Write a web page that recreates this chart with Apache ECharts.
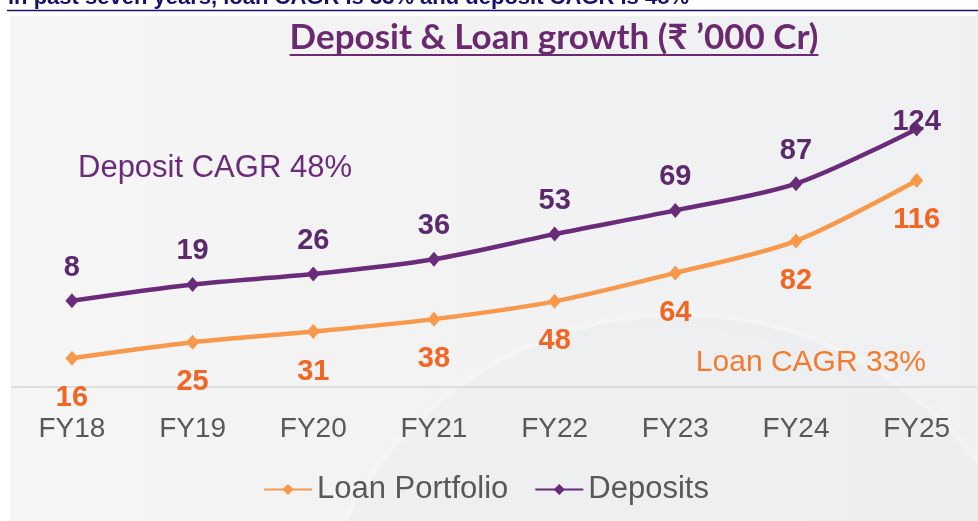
<!DOCTYPE html>
<html>
<head>
<meta charset="utf-8">
<script src="https://cdn.jsdelivr.net/npm/echarts@6/dist/echarts.min.js"></script>
<style>
html, body { margin: 0; padding: 0; background: #fff; }
#chart { width: 978px; height: 521px; }
</style>
</head>
<body>
<div id="chart"></div>
<script>
// values (₹ '000 Cr)
const years = ['FY18', 'FY19', 'FY20', 'FY21', 'FY22', 'FY23', 'FY24', 'FY25'];
const loanPortfolio = [16, 25, 31, 38, 48, 64, 82, 116];
const deposits = [8, 19, 26, 36, 53, 69, 87, 124];

const titleText = 'Deposit & Loan growth (₹ \u2019000 Cr)';
const headline = 'in past seven years, loan CAGR is 33% and deposit CAGR is 48%';
const depositCagr = 'Deposit CAGR 48%';
const loanCagr = 'Loan CAGR 33%';

const purple = '#6a2c7a';
const orange = '#f7984a';
const titleFont = 'bold 35px Lato, "Liberation Sans", sans-serif';

// width of the title, for the underline
const ctx = document.createElement('canvas').getContext('2d');
ctx.font = titleFont;
const titleW = ctx.measureText(titleText).width;
const titleCx = 554;

var myChart = echarts.init(document.getElementById('chart'));

// last deposit label sits almost on the point
const depositData = deposits.map((v, i) => i === deposits.length - 1
    ? { value: v, label: { offset: [0, 26] } }
    : v);

var option = {
    backgroundColor: '#ffffff',
    animation: false,
    graphic: [
        {
            type: 'rect', z: -10, silent: true,
            shape: { x: 10, y: 16, width: 968, height: 505 },
            style: {
                fill: new echarts.graphic.LinearGradient(0, 0, 1, 0, [
                    { offset: 0, color: '#f6f6f6' },
                    { offset: 0.3, color: '#f3f3f4' },
                    { offset: 1, color: '#eff0f1' }
                ])
            }
        },
        {
            type: 'circle', z: -9, silent: true,
            shape: { cx: 680, cy: 690, r: 375 },
            style: {
                fill: 'rgba(226,227,231,0.3)',
                stroke: 'rgba(255,255,255,0.3)',
                lineWidth: 4,
                shadowBlur: 14,
                shadowColor: 'rgba(255,255,255,0.6)'
            }
        },
        {
            type: 'text', silent: true,
            style: {
                text: headline, x: 8, y: -2, verticalAlign: 'middle',
                font: 'bold 22px "Liberation Sans", Arial, sans-serif', fill: '#14106b'
            }
        },
        {
            type: 'line', silent: true,
            shape: { x1: 7, y1: 10.5, x2: 978, y2: 10.5 },
            style: { stroke: '#16126e', lineWidth: 1.5 }
        },
        {
            type: 'text', silent: true,
            style: {
                text: titleText, x: titleCx, y: 38, align: 'center', verticalAlign: 'middle',
                font: titleFont, fill: '#6b2a70'
            }
        },
        {
            type: 'line', silent: true,
            shape: { x1: titleCx - titleW / 2, y1: 55, x2: titleCx + titleW / 2, y2: 55 },
            style: { stroke: '#6b2a70', lineWidth: 2 }
        },
        {
            type: 'text', silent: true,
            style: {
                text: depositCagr, x: 78, y: 168, verticalAlign: 'middle',
                font: '31px "Liberation Sans", Arial, sans-serif', fill: purple
            }
        },
        {
            type: 'text', silent: true,
            style: {
                text: loanCagr, x: 926, y: 363, align: 'right', verticalAlign: 'middle',
                font: '30px "Liberation Sans", Arial, sans-serif', fill: '#f47b2c'
            }
        }
    ],
    grid: {
        left: 11.6,
        right: 1,
        top: 120,
        bottom: 134.3
    },
    legend: {
        data: ['Loan Portfolio', 'Deposits'],
        left: 263,
        top: 474,
        padding: 0,
        itemWidth: 48,
        itemHeight: 14,
        itemGap: 26,
        textStyle: {
            color: '#595959',
            fontSize: 31,
            fontFamily: '"Liberation Sans", Arial, sans-serif'
        }
    },
    xAxis: {
        type: 'category',
        data: years,
        axisTick: { show: false },
        axisLine: { lineStyle: { color: '#d6d6d6', width: 1.5 } },
        axisLabel: {
            color: '#595959',
            fontSize: 28,
            fontFamily: '"Liberation Sans", Arial, sans-serif',
            margin: 29
        }
    },
    yAxis: [
        { type: 'value', min: 0, max: 150, show: false, splitLine: { show: false } },
        { type: 'value', min: -50, max: 130, show: false, splitLine: { show: false } }
    ],
    series: [
        {
            name: 'Loan Portfolio',
            type: 'line',
            yAxisIndex: 0,
            data: loanPortfolio,
            smooth: 0.3,
            symbol: 'diamond',
            symbolSize: [13, 15],
            lineStyle: { color: orange, width: 4.5 },
            itemStyle: { color: orange },
            label: {
                show: true,
                position: 'bottom',
                distance: 18,
                color: '#f26522',
                fontSize: 29,
                fontWeight: 'bold',
                fontFamily: '"Liberation Sans", Arial, sans-serif'
            }
        },
        {
            name: 'Deposits',
            type: 'line',
            yAxisIndex: 1,
            data: depositData,
            smooth: 0.3,
            symbol: 'diamond',
            symbolSize: [13, 15],
            lineStyle: { color: purple, width: 4.5 },
            itemStyle: { color: purple },
            label: {
                show: true,
                position: 'top',
                distance: 11,
                color: '#5c2a6c',
                fontSize: 29,
                fontWeight: 'bold',
                fontFamily: '"Liberation Sans", Arial, sans-serif'
            }
        }
    ]
};
option && myChart.setOption(option);
</script>
</body>
</html>
